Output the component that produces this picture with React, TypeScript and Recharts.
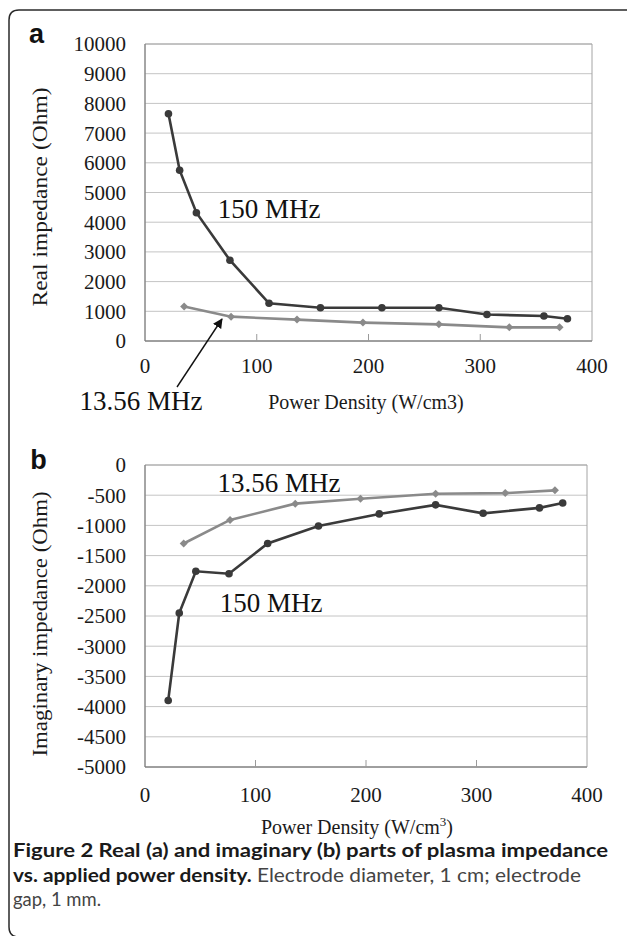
import React from "react"
import { CartesianGrid, Line, LineChart, ReferenceArea, XAxis, YAxis } from "recharts"

// power density (W/cm3) at each measured point
const hfPower = [21, 31, 46, 76, 111, 157, 212, 263, 306, 357, 378]
const lfPower = [35, 77, 136, 195, 263, 326, 371]

// real part (Ohm)
const hfReal = [7650, 5750, 4320, 2720, 1270, 1120, 1120, 1120, 890, 840, 750]
const lfReal = [1160, 820, 720, 620, 560, 460, 460]

// imaginary part (Ohm)
const hfImag = [-3900, -2450, -1760, -1800, -1300, -1010, -810, -660, -800, -710, -630]
const lfImag = [-1300, -910, -640, -560, -475, -465, -420]

const xTicks = [0, 100, 200, 300, 400]
const realTicks = [0, 1000, 2000, 3000, 4000, 5000, 6000, 7000, 8000, 9000, 10000]
const imagTicks = [-5000, -4500, -4000, -3500, -3000, -2500, -2000, -1500, -1000, -500, 0]

const toPoints = (xs: number[], ys: number[]) => xs.map((x, i) => ({ x, y: ys[i] }))

const DARK = "#3a3a3a"
const LIGHT = "#8a8a8a"
const SERIF = "'Liberation Serif', 'Times New Roman', serif"
const SANS = "Lato, 'Open Sans', sans-serif"

const makeXTick = (margin: number, baseline: number) => (props: any) => {
  const { x, y, payload } = props
  const axisY = y - margin
  return (
    <g>
      {payload.value > 0 && payload.value < 400 ? (
        <line x1={x} x2={x} y1={axisY} y2={axisY - 7} stroke="#9a9a9a" />
      ) : null}
      <text x={x} y={axisY + baseline} textAnchor="middle" fontSize={21} fontFamily={SERIF} fill="#1a1a1a">
        {payload.value}
      </text>
    </g>
  )
}

const Diamond = (props: any) => {
  const { cx, cy, index } = props
  if (cx == null || cy == null) return <g key={`dm-${index}`} />
  const s = 4
  return (
    <polygon
      key={`dm-${index}`}
      points={`${cx},${cy - s} ${cx + s},${cy} ${cx},${cy + s} ${cx - s},${cy}`}
      fill={LIGHT}
    />
  )
}

const yTick = { fill: "#1a1a1a", fontSize: 21, fontFamily: SERIF }
const dotStyle = { r: 3.8, fill: DARK, stroke: DARK, strokeWidth: 0 }

function RealChart() {
  return (
    <LineChart width={627} height={420} margin={{ top: 44, right: 35, bottom: 49, left: 0 }}>
      <CartesianGrid vertical={false} stroke="#c4c4c4" />
      <ReferenceArea x1={0} x2={400} y1={0} y2={10000} fill="none" stroke="#a4a4a4" ifOverflow="visible" />
      <XAxis
        dataKey="x"
        type="number"
        domain={[0, 400]}
        ticks={xTicks}
        height={30}
        axisLine={{ stroke: "#7a7a7a" }}
        tickLine={false}
        tickSize={0}
        tickMargin={10}
        tick={makeXTick(10, 32)}
      />
      <YAxis
        type="number"
        domain={[0, 10000]}
        ticks={realTicks}
        width={145}
        axisLine={{ stroke: "#7a7a7a" }}
        tickLine={false}
        tickSize={0}
        tickMargin={19}
        tick={yTick}
        interval={0}
      />
      <Line
        data={toPoints(lfPower, lfReal)}
        dataKey="y"
        stroke={LIGHT}
        strokeWidth={2.6}
        dot={Diamond}
        isAnimationActive={false}
      />
      <Line
        data={toPoints(hfPower, hfReal)}
        dataKey="y"
        stroke={DARK}
        strokeWidth={2.6}
        dot={dotStyle}
        isAnimationActive={false}
      />
    </LineChart>
  )
}

function ImagChart() {
  return (
    <LineChart width={627} height={430} margin={{ top: 45, right: 40, bottom: 53, left: 0 }}>
      <CartesianGrid vertical={false} stroke="#c4c4c4" />
      <ReferenceArea x1={0} x2={400} y1={-5000} y2={0} fill="none" stroke="#a4a4a4" ifOverflow="visible" />
      <XAxis
        dataKey="x"
        type="number"
        domain={[0, 400]}
        ticks={xTicks}
        height={30}
        axisLine={{ stroke: "#7a7a7a" }}
        tickLine={false}
        tickSize={0}
        tickMargin={10}
        tick={makeXTick(10, 35)}
      />
      <YAxis
        type="number"
        domain={[-5000, 0]}
        ticks={imagTicks}
        width={145}
        axisLine={{ stroke: "#7a7a7a" }}
        tickLine={false}
        tickSize={0}
        tickMargin={19}
        tick={yTick}
        interval={0}
      />
      <Line
        data={toPoints(lfPower, lfImag)}
        dataKey="y"
        stroke={LIGHT}
        strokeWidth={2.6}
        dot={Diamond}
        isAnimationActive={false}
      />
      <Line
        data={toPoints(hfPower, hfImag)}
        dataKey="y"
        stroke={DARK}
        strokeWidth={2.6}
        dot={dotStyle}
        isAnimationActive={false}
      />
    </LineChart>
  )
}

const noteStyle = { fontSize: 27, fontFamily: SERIF, fill: "#111" }

export default function App() {
  return (
    <div style={{ position: "relative", width: 627, height: 936, overflow: "hidden", background: "#fff" }}>
      <style>{`body{margin:0}`}</style>
      <div style={{ position: "absolute", left: 0, top: 0 }}>
        <RealChart />
      </div>
      <div style={{ position: "absolute", left: 0, top: 420 }}>
        <ImagChart />
      </div>
      <svg
        width={627}
        height={936}
        style={{ position: "absolute", left: 0, top: 0, pointerEvents: "none" }}
      >
        <defs>
          <marker id="head" viewBox="0 0 10 10" refX="9" refY="5" markerWidth="7" markerHeight="7" orient="auto">
            <path d="M0,0 L10,5 L0,10 z" fill="#111" />
          </marker>
        </defs>
        {/* figure frame */}
        <path d="M19,937 Q9,937 9,927 L9,20 Q9,10 19,10 L628,10" fill="none" stroke="#2a2a2a" strokeWidth={1.5} />

        {/* panel letters */}
        <text x={36.5} y={34} textAnchor="middle" dominantBaseline="central" fontSize={27} fontWeight="bold" fontFamily="'Liberation Sans', Arial, sans-serif" fill="#111">a</text>
        <text x={38.5} y={460} textAnchor="middle" dominantBaseline="central" fontSize={27} fontWeight="bold" fontFamily="'Liberation Sans', Arial, sans-serif" fill="#111">b</text>

        {/* axis titles */}
        <text
          x={39}
          y={197}
          transform="rotate(-90 39 197)"
          textAnchor="middle"
          dominantBaseline="central"
          fontSize={22}
          fontFamily={SERIF}
          fill="#1a1a1a"
          textLength={219}
          lengthAdjust="spacingAndGlyphs"
        >
          Real impedance (Ohm)
        </text>
        <text
          x={39}
          y={624}
          transform="rotate(-90 39 624)"
          textAnchor="middle"
          dominantBaseline="central"
          fontSize={22}
          fontFamily={SERIF}
          fill="#1a1a1a"
          textLength={265}
          lengthAdjust="spacingAndGlyphs"
        >
          Imaginary impedance (Ohm)
        </text>
        <text x={366} y={402} textAnchor="middle" dominantBaseline="central" fontSize={20} fontFamily={SERIF} fill="#1a1a1a">
          Power Density (W/cm3)
        </text>
        <text x={357} y={834} textAnchor="middle" fontSize={20} fontFamily={SERIF} fill="#1a1a1a">
          <tspan>Power Density (W/cm</tspan>
          <tspan dy={-8} fontSize={13}>3</tspan>
          <tspan dy={8}>)</tspan>
        </text>

        {/* series annotations */}
        <text x={269} y={209} textAnchor="middle" dominantBaseline="central" {...noteStyle}>150 MHz</text>
        <text x={141} y={401} textAnchor="middle" dominantBaseline="central" {...noteStyle}>13.56 MHz</text>
        <line x1={177} y1={387} x2={222} y2={319} stroke="#111" strokeWidth={1.4} markerEnd="url(#head)" />
        <text x={279} y={483} textAnchor="middle" dominantBaseline="central" {...noteStyle}>13.56 MHz</text>
        <text x={271} y={603} textAnchor="middle" dominantBaseline="central" {...noteStyle}>150 MHz</text>

        {/* caption */}
        <text x={13} y={857} fontSize={19.5} fontFamily={SANS} fill="#1a1a1a" textLength={595} lengthAdjust="spacingAndGlyphs">
          <tspan fontWeight="bold">Figure 2 Real (a) and imaginary (b) parts of plasma impedance</tspan>
        </text>
        <text x={13} y={882} fontSize={19.5} fontFamily={SANS} fill="#1a1a1a" textLength={568} lengthAdjust="spacingAndGlyphs">
          <tspan fontWeight="bold">vs. applied power density.</tspan>
          <tspan fill="#444"> Electrode diameter, 1 cm; electrode</tspan>
        </text>
        <text x={13} y={906} fontSize={19.5} fontFamily={SANS} fill="#444" textLength={88} lengthAdjust="spacingAndGlyphs">
          gap, 1 mm.
        </text>
      </svg>
    </div>
  )
}
